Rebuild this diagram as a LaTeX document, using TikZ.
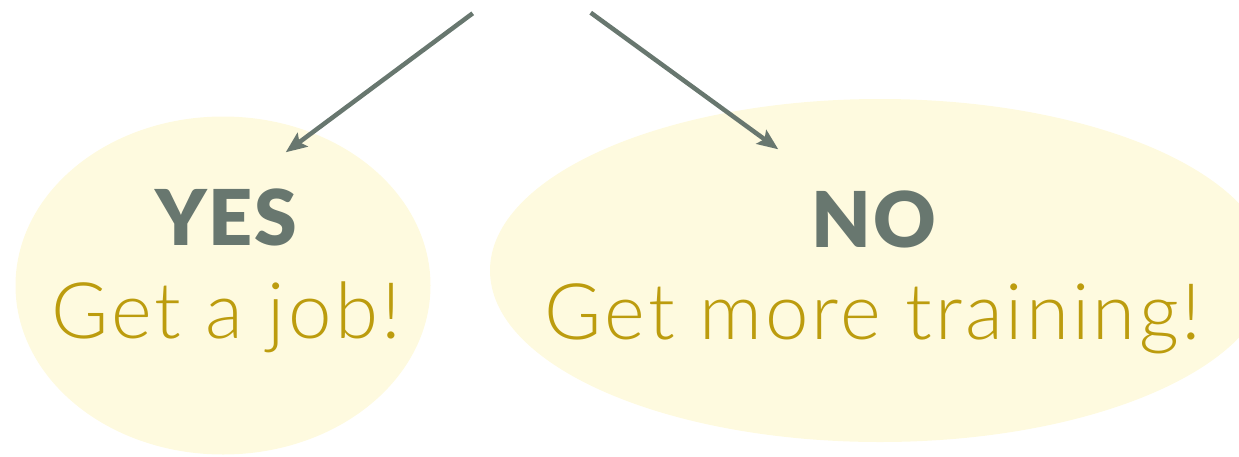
\documentclass[tikz,border=0pt]{standalone}
\usepackage{fontspec}
\setmainfont{Lato}
\newfontfamily\lightfont{Lato}[UprightFont=* Light, LetterSpace=4]
\newfontfamily\headfont{Lato}[UprightFont=* Black, LetterSpace=2]
\usetikzlibrary{arrows.meta}
\definecolor{fillY}{HTML}{FEFADF}
\definecolor{grn}{HTML}{68776F}
\definecolor{gold}{HTML}{BC9C0E}
\tikzset{
  blob/.style={fill=fillY, draw=none},
  head/.style={text=grn, font=\headfont\fontsize{77}{80}\selectfont, anchor=base, inner sep=0pt},
  sub/.style={text=gold, font=\lightfont\fontsize{78}{80}\selectfont, anchor=base, inner sep=0pt},
  conn/.style={draw=grn, line width=4.5pt, -{Stealth[length=21pt,width=17pt,inset=4pt]}}
}
\begin{document}
\begin{tikzpicture}[x=1pt,y=-1pt]
\useasboundingbox (0,0) rectangle (1239,456);
\fill[blob] (223,285.5) ellipse [x radius=207.5, y radius=169];
\fill[blob] (880,270.5) ellipse [x radius=390, y radius=171.5];
\node[head] (yes) at (226,245) {YES};
\node[sub] (job) at (226,338) {Get a job!};
\node[head] (no) at (874,247) {NO};
\node[sub] (train) at (873,339) {Get more training!};
\coordinate (ys) at (472.7,13.3);
\coordinate (yt) at (285.7,152.3);
\coordinate (ns) at (590.7,12.7);
\coordinate (nt) at (778.3,149.3);
\draw[conn] (ys) -- (yt);
\draw[conn] (ns) -- (nt);
\end{tikzpicture}
\end{document}
